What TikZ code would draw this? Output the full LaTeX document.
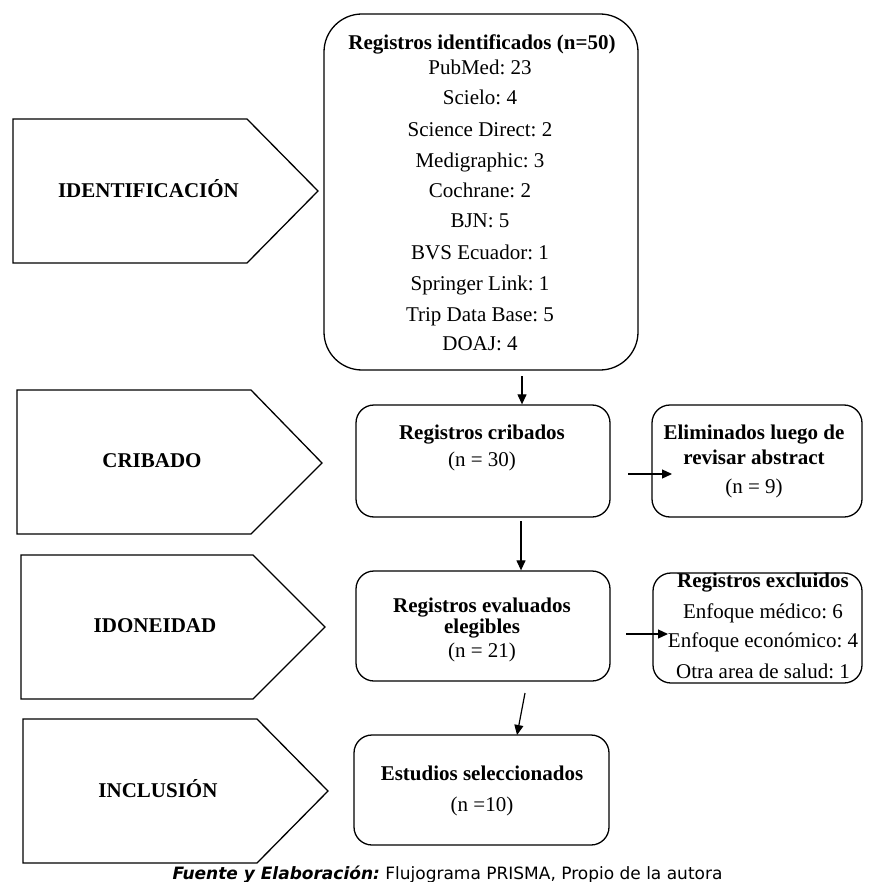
\documentclass[tikz,border=0pt]{standalone}
\usepackage{fontspec}
\setmainfont{Liberation Serif}
\newfontfamily\capfont{DejaVu Sans}
\usetikzlibrary{arrows.meta}
\newcommand\myfs{\fontsize{21}{25}\selectfont}
\frenchspacing
\begin{document}
\begin{tikzpicture}[x=1pt,y=-1pt,
  stage/.style={draw,line width=1.3pt,line join=miter},
  stagelbl/.style={anchor=base,inner sep=0pt,font=\myfs\bfseries},
  bigbox/.style={draw,line width=1.3pt,rounded corners=38pt,inner sep=0pt},
  flowbox/.style={draw,line width=1.3pt,rounded corners=18pt,inner sep=0pt},
  txt/.style={anchor=base,inner sep=0pt,font=\myfs},
  btxt/.style={anchor=base,inner sep=0pt,font=\myfs\bfseries},
  arr/.style={line width=1.2pt,-{Triangle[length=10pt,width=9pt]}}]
\useasboundingbox[fill=white] (0,0) rectangle (868,882);

% stage pentagons
\draw[stage] (13,119) -- (247,119) -- (318,191) -- (247,263) -- (13,263) -- cycle;
\node[stagelbl] (lid) at (148.5,198) {IDENTIFICACIÓN};
\draw[stage] (17,390) -- (251,390) -- (322,463) -- (251,534) -- (17,534) -- cycle;
\node[stagelbl] (lcr) at (152,467) {CRIBADO};
\draw[stage] (21,555) -- (253,555) -- (325,627) -- (253,699) -- (21,699) -- cycle;
\node[stagelbl] (lido) at (155,632) {IDONEIDAD};
\draw[stage] (23,719) -- (257,719) -- (328,791) -- (257,863) -- (23,863) -- cycle;
\node[stagelbl] (lin) at (158,797) {INCLUSIÓN};

% top box
\node[bigbox,minimum width=314pt,minimum height=356pt] (ident) at (481,192) {};
\node[btxt] (t0) at (482,50) {Registros identificados (n=50)};
\node[txt] (t1) at (480,75) {PubMed: 23};
\node[txt] (t2) at (480,105) {Scielo: 4};
\node[txt] (t3) at (480,137) {Science Direct: 2};
\node[txt] (t4) at (480,168) {Medigraphic: 3};
\node[txt] (t5) at (480,198) {Cochrane: 2};
\node[txt] (t6) at (480,228) {BJN: 5};
\node[txt] (t7) at (480,260) {BVS Ecuador: 1};
\node[txt] (t8) at (480,290) {Springer Link: 1};
\node[txt] (t9) at (480,321) {Trip Data Base: 5};
\node[txt] (t10) at (480,350) {DOAJ: 4};

% cribados
\node[flowbox,minimum width=254pt,minimum height=112pt] (crib) at (483,461) {};
\node[btxt] (c1) at (482,439) {Registros cribados};
\node[txt] (c2) at (482,466) {(n = 30)};

% eliminados
\node[flowbox,minimum width=210pt,minimum height=112pt] (elim) at (757,461) {};
\node[btxt] (e1) at (754,439) {Eliminados luego de};
\node[btxt] (e2) at (754,464) {revisar abstract};
\node[txt] (e3) at (754,493) {(n = 9)};

% evaluados
\node[flowbox,minimum width=254pt,minimum height=110pt] (eval) at (483,626) {};
\node[btxt] (v1) at (482,612) {Registros evaluados};
\node[btxt] (v2) at (482,633) {elegibles};
\node[txt] (v3) at (482,657) {(n = 21)};

% excluidos
\node[flowbox,minimum width=209pt,minimum height=110pt] (excl) at (757.5,628) {};
\node[btxt] (x1) at (763,587) {Registros excluidos};
\node[txt] (x2) at (763,618) {Enfoque médico: 6};
\node[txt] (x3) at (763,647) {Enfoque económico: 4};
\node[txt] (x4) at (763,678) {Otra area de salud: 1};

% seleccionados
\node[flowbox,minimum width=255pt,minimum height=110pt] (sel) at (481.5,790) {};
\node[btxt] (s1) at (482,780) {Estudios seleccionados};
\node[txt] (s2) at (482,811) {(n =10)};

% connectors
\coordinate (a1) at (522,376);
\draw[arr] (a1) -- (a1 |- crib.north);
\coordinate (a2) at (521,521);
\draw[arr] (a2) -- (a2 |- eval.north);
\coordinate (a3) at (525,693);
\coordinate (a3e) at (517,735);
\draw[arr] (a3) -- (a3e);
\coordinate (b1) at (628,474);
\coordinate (b1e) at (672,474);
\draw[arr] (b1) -- (b1e);
\coordinate (b2) at (626,634);
\coordinate (b2e) at (668,634);
\draw[arr] (b2) -- (b2e);

% caption
\node[anchor=base,inner sep=0pt,font=\capfont\fontsize{17}{20}\selectfont] (cap) at (447.5,879)
  {{\bfseries\itshape Fuente y Elaboración:} Flujograma PRISMA, Propio de la autora};
\end{tikzpicture}
\end{document}
